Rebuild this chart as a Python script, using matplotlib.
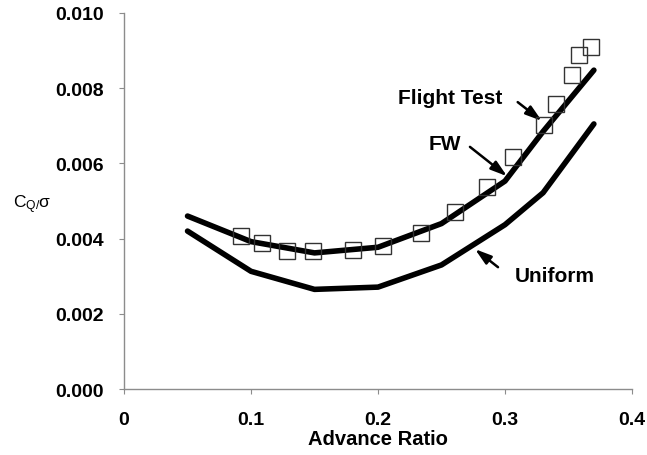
import matplotlib
matplotlib.use('Agg')
import matplotlib.pyplot as plt

plt.rcParams['font.family'] = ['Liberation Sans', 'DejaVu Sans']
plt.rcParams['mathtext.fontset'] = 'custom'
plt.rcParams['mathtext.rm'] = 'Liberation Sans'
plt.rcParams['mathtext.it'] = 'Liberation Sans:italic'

# FW (free wake) prediction
mu_fw = [0.05, 0.10, 0.15, 0.20, 0.25, 0.30, 0.33, 0.37]
cq_fw = [0.00460, 0.00392, 0.00362, 0.00377, 0.00440, 0.00553, 0.00685, 0.00848]

# Uniform inflow prediction
mu_uni = [0.05, 0.10, 0.15, 0.20, 0.25, 0.30, 0.33, 0.37]
cq_uni = [0.00420, 0.00313, 0.00265, 0.00271, 0.00330, 0.00437, 0.00522, 0.00705]

# Flight test data
mu_ft = [0.092, 0.109, 0.128, 0.149, 0.180, 0.204, 0.234, 0.261, 0.286,
         0.306, 0.331, 0.340, 0.353, 0.358, 0.368]
cq_ft = [0.00407, 0.00388, 0.00367, 0.00367, 0.00370, 0.00380, 0.00415, 0.00470,
         0.00537, 0.00617, 0.00702, 0.00758, 0.00835, 0.00888, 0.00910]

xticks = [0, 0.1, 0.2, 0.3, 0.4]
xtick_labels = ['0', '0.1', '0.2', '0.3', '0.4']
yticks = [0.0, 0.002, 0.004, 0.006, 0.008, 0.010]
ytick_labels = ['0.000', '0.002', '0.004', '0.006', '0.008', '0.010']

fig = plt.figure(figsize=(6.47, 4.56), dpi=100)
ax = fig.add_axes([0.1917, 0.1447, 0.7851, 0.8246])

ax.plot(mu_fw, cq_fw, color='black', lw=4.0, solid_capstyle='round', solid_joinstyle='round', zorder=3)
ax.plot(mu_uni, cq_uni, color='black', lw=4.0, solid_capstyle='round', solid_joinstyle='round', zorder=3)
ax.plot(mu_ft, cq_ft, ls='none', marker='s', markersize=11, markerfacecolor='none',
        markeredgecolor='#333333', markeredgewidth=1.0, zorder=4)

ax.set_xlim(0, 0.4)
ax.set_ylim(0, 0.010)
ax.set_xticks(xticks)
ax.set_xticklabels(xtick_labels, fontsize=14, fontweight='bold')
ax.set_yticks(yticks)
ax.set_yticklabels(ytick_labels, fontsize=14, fontweight='bold')

for s in ['top', 'right']:
    ax.spines[s].set_visible(False)
for s in ['left', 'bottom']:
    ax.spines[s].set_color('#8c8c8c')
    ax.spines[s].set_linewidth(1.0)
ax.tick_params(axis='both', direction='out', length=3.6, color='#8c8c8c')
ax.tick_params(axis='x', pad=12)
ax.tick_params(axis='y', pad=11)

ax.set_xlabel('Advance Ratio', fontsize=14.5, fontweight='bold', labelpad=1)
ax.set_ylabel(r'C$_{\mathregular{Q/}}$σ', fontsize=12.5, rotation=0, va='center', ha='center')
ax.yaxis.set_label_coords(-0.181, 0.492)

# annotations: slender filled arrow heads like the original
arrow = dict(arrowstyle='-|>,head_length=0.7,head_width=0.22', color='black', lw=1.8,
             mutation_scale=14, shrinkA=0, shrinkB=0)
ax.text(0.2567, 0.00774, 'Flight Test', fontsize=15, fontweight='bold', ha='center', va='center')
ax.annotate('', xy=(0.329, 0.00713), xytext=(0.310, 0.00763), arrowprops=arrow)
ax.text(0.2528, 0.00652, 'FW', fontsize=15, fontweight='bold', ha='center', va='center')
ax.annotate('', xy=(0.3016, 0.00566), xytext=(0.2724, 0.00644), arrowprops=arrow)
ax.text(0.3394, 0.00301, 'Uniform', fontsize=15, fontweight='bold', ha='center', va='center')
ax.annotate('', xy=(0.2764, 0.00372), xytext=(0.2945, 0.00324), arrowprops=arrow)

fig.savefig('out.png', dpi=100)
